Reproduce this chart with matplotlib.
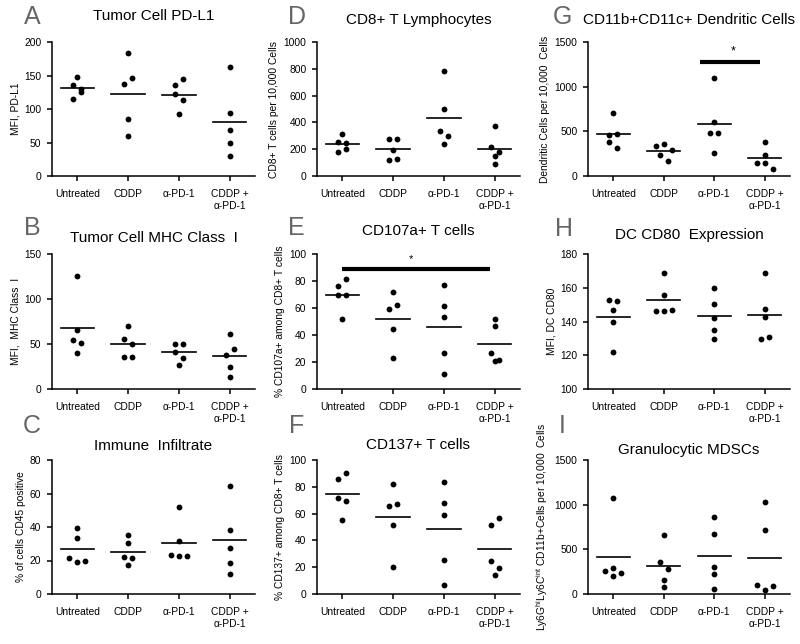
import numpy as np
import matplotlib.pyplot as plt

plt.rcParams['font.family'] = ['Liberation Sans', 'DejaVu Sans']
plt.rcParams['mathtext.fontset'] = 'custom'
plt.rcParams['mathtext.rm'] = 'Liberation Sans'

groups = ["Untreated", "CDDP", "α-PD-1", "CDDP +\nα-PD-1"]

# values per group (5 mice per group)
pdl1 = [[148, 136, 130, 115, 125], [183, 138, 147, 85, 60],
        [136, 145, 122, 113, 92], [163, 94, 69, 50, 30]]
mhc1 = [[125.7, 66, 54.5, 50.7, 40], [70.5, 56, 50, 36, 36],
        [50, 50, 40.7, 35, 27.2], [61.6, 38, 44, 24.3, 13]]
cd45 = [[39.4, 33.4, 21.5, 19.3, 19.9], [35.1, 30.2, 22.2, 21.3, 17.4],
        [51.9, 31.8, 23.2, 22.4, 22.4], [64.4, 38, 27.3, 18.3, 11.9]]
cd8 = [[316, 255, 247, 179, 202], [273, 273, 197, 121, 126],
       [783, 500, 333, 298, 237], [371, 215, 179, 152, 93]]
cd107 = [[76.6, 81.6, 69.9, 69.7, 51.5], [71.6, 58.9, 61.9, 44.8, 22.6],
         [77.1, 61.7, 53.5, 26.9, 11.2], [52.2, 46.8, 26.6, 21.1, 21.6]]
cd137 = [[85.7, 90.5, 71.4, 69.1, 55], [82.4, 65.8, 67.3, 51.8, 19.8],
         [83.7, 67.8, 59.3, 25.1, 6.5], [51.8, 56.8, 24.4, 19.3, 14.3]]
dcs = [[705, 460, 470, 380, 315], [340, 360, 290, 230, 170],
       [1100, 600, 480, 480, 260], [380, 230, 150, 140, 80]]
cd80 = [[152.8, 151.9, 147, 139.7, 122], [168.8, 155.8, 146, 146, 147],
        [159.7, 150.5, 142, 135, 129.7], [168.8, 147.7, 142.6, 129.7, 130.8]]
mdsc = [[1078, 258, 292, 232, 198], [663, 356, 285, 161, 82],
        [861, 667, 307, 225, 52], [1034, 712, 105, 49, 94]]

W, H = 800, 644
fig = plt.figure(figsize=(W / 100, H / 100), dpi=100)

# axes extents in pixels: (left, right) per column, (top, bottom) per row
col_x = [(52, 255), (317, 520), (588, 790)]
row_y = [(42, 176), (254, 389), (460, 594)]

panels = [
    ("A", "Tumor Cell PD-L1", "MFI, PD-L1", pdl1, (0, 200), [0, 50, 100, 150, 200], 0, 0, 16),
    ("B", "Tumor Cell MHC Class  I", "MFI,  MHC Class  I", mhc1, (0, 150), [0, 50, 100, 150], 0, 1, 238),
    ("C", "Immune  Infiltrate", "% of cells CD45 positive", cd45, (0, 80), [0, 20, 40, 60, 80], 0, 2, 446),
    ("D", "CD8+ T Lymphocytes", "CD8+ T cells per 10,000 Cells", cd8, (0, 1000), [0, 200, 400, 600, 800, 1000], 1, 0, 20),
    ("E", "CD107a+ T cells", "% CD107a+ among CD8+ T cells", cd107, (0, 100), [0, 20, 40, 60, 80, 100], 1, 1, 231),
    ("F", "CD137+ T cells", "% CD137+ among CD8+ T cells", cd137, (0, 100), [0, 20, 40, 60, 80, 100], 1, 2, 445),
    ("G", "CD11b+CD11c+ Dendritic Cells", "Dendritic Cells per 10,000  Cells", dcs, (0, 1500), [0, 500, 1000, 1500], 2, 0, 20),
    ("H", "DC CD80  Expression", "MFI, DC CD80", cd80, (100, 180), [100, 120, 140, 160, 180], 2, 1, 235),
    ("I", "Granulocytic MDSCs", r"Ly6G$^{\rm hi}$Ly6C$^{\rm int}$ CD11b+Cells per 10,000  Cells", mdsc, (0, 1500), [0, 500, 1000, 1500], 2, 2, 450),
]
letter_pos = {"A": (32, 17), "B": (32, 228), "C": (32, 426),
              "D": (297, 17), "E": (296, 228), "F": (297, 426),
              "G": (562, 17), "H": (564, 229), "I": (562, 426)}


def swarm_offsets(ax, vals, thresh_px=7.0, step_px=8.0):
    # group points of similar height into rows and spread each row sideways
    t = ax.transData
    ppu_y = t.transform((0, 1))[1] - t.transform((0, 0))[1]
    ppu_x = t.transform((1, 0))[0] - t.transform((0, 0))[0]
    order = sorted(range(len(vals)), key=lambda i: -vals[i])
    rows = []
    for i in order:
        if rows and (vals[rows[-1][0]] - vals[i]) * ppu_y < thresh_px:
            rows[-1].append(i)
        else:
            rows.append([i])
    offs = np.zeros(len(vals))
    for r in rows:
        r = sorted(r)
        n = len(r)
        for k, i in enumerate(r):
            offs[i] = (k - (n - 1) / 2) * step_px / ppu_x
    return offs


axes = {}
for letter, title, ylabel, data, ylim, yticks, c, r, ty in panels:
    x0, x1 = col_x[c]
    top, bot = row_y[r]
    ax = fig.add_axes([x0 / W, 1 - bot / H, (x1 - x0) / W, (bot - top) / H])
    axes[letter] = ax
    ax.set_xlim(-0.5, 3.5)
    ax.set_ylim(*ylim)
    for gi, vals in enumerate(data):
        offs = swarm_offsets(ax, vals)
        ax.plot(gi + offs, vals, 'o', color='black', ms=4.2, mew=0, clip_on=False)
        m = np.mean(vals)
        ax.plot([gi - 0.33, gi + 0.33], [m, m], color='black', lw=1.2)
    ax.set_xticks(range(len(groups)))
    ax.set_xticklabels(groups, fontsize=7.4, linespacing=1.25)
    ax.set_yticks(yticks)
    ax.tick_params(axis='y', labelsize=7.4, length=3.6, width=1.1, pad=4)
    ax.tick_params(axis='x', length=3.6, width=1.1, pad=6)
    for s in ['top', 'right']:
        ax.spines[s].set_visible(False)
    for s in ['left', 'bottom']:
        ax.spines[s].set_linewidth(1.1)
    ax.set_ylabel(ylabel, fontsize=7.4, labelpad=3)
    fig.text((x0 + x1) / 2 / W, 1 - ty / H, title, fontsize=11,
             ha='center', va='center')
    lx, ly = letter_pos[letter]
    fig.text(lx / W, 1 - ly / H, letter, fontsize=18, color='#666666',
             ha='center', va='center')

# significance bars
ax = axes["E"]
ax.plot([0, 2.9], [89, 89], color='black', lw=3, solid_capstyle='butt')
ax.text(1.35, 96, "*", ha='center', va='center', fontsize=8)
ax = axes["G"]
ax.plot([1.72, 2.91], [1276, 1276], color='black', lw=3, solid_capstyle='butt')
ax.text(2.38, 1390, "*", ha='center', va='center', fontsize=9)

fig.savefig("out.png", dpi=100)
